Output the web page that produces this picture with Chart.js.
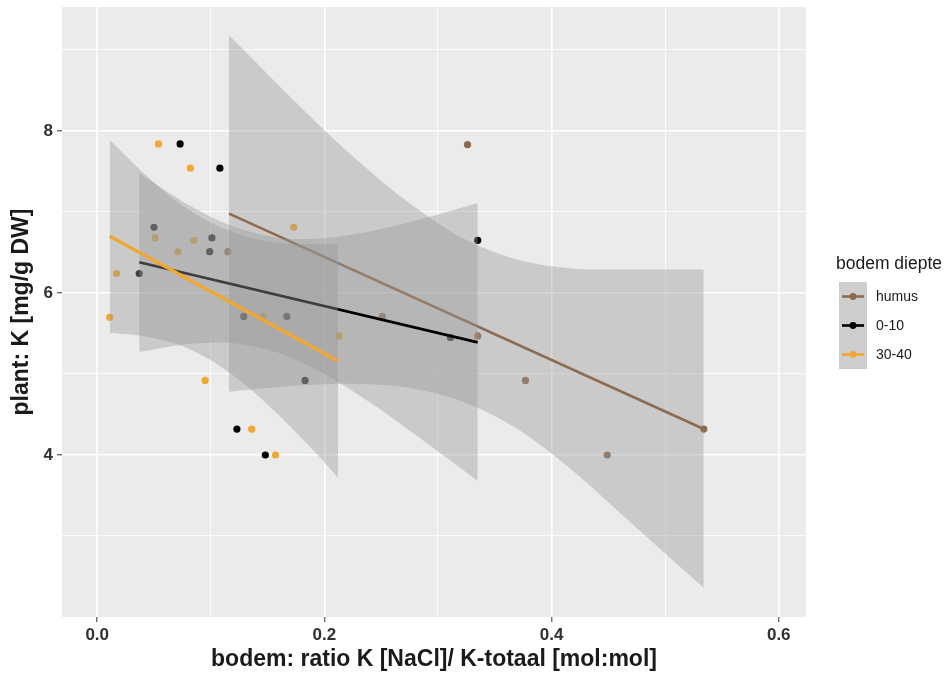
<!DOCTYPE html>
<html>
<head>
<meta charset="utf-8">
<script src="https://cdn.jsdelivr.net/npm/chart.js@4.4.1/dist/chart.umd.min.js"></script>
<style>
  html, body { margin: 0; padding: 0; background: #ffffff; }
  #c { display: block; }
</style>
</head>
<body>
<canvas id="c" width="952" height="673"></canvas>
<script>
// bodem diepte groepen
const GROUPS = ['humus', '0-10', '30-40'];
const GROUP_COLORS = ['#8c6b4e', '#000000', '#f0a832'];

// punten per groep (x = ratio K NaCl / K-totaal, y = plant K)
const HUMUS_X = [0.115, 0.251, 0.326, 0.335, 0.377, 0.449, 0.534];
const HUMUS_Y = [6.51, 5.71, 7.83, 5.47, 4.92, 4.00, 4.32];
const D010_X = [0.037, 0.050, 0.073, 0.108, 0.101, 0.099, 0.123, 0.148, 0.129, 0.167, 0.183, 0.311, 0.335];
const D010_Y = [6.24, 6.81, 7.84, 7.54, 6.68, 6.51, 4.32, 4.00, 5.71, 5.71, 4.92, 5.45, 6.65];
const D3040_X = [0.011, 0.017, 0.054, 0.082, 0.071, 0.051, 0.085, 0.095, 0.136, 0.157, 0.173, 0.213, 0.146];
const D3040_Y = [5.70, 6.24, 7.84, 7.54, 6.51, 6.68, 6.65, 4.92, 4.32, 4.00, 6.81, 5.47, 5.71];

// regressielijnen (begin en eind)
const HUMUS_FIT_X = [0.116, 0.534];
const HUMUS_FIT_Y = [6.98, 4.32];
const D010_FIT_X = [0.037, 0.335];
const D010_FIT_Y = [6.38, 5.39];
const D3040_FIT_X = [0.011, 0.212];
const D3040_FIT_Y = [6.70, 5.16];

const HUMUS_BAND_X = [0.116, 0.17, 0.22, 0.27, 0.32, 0.37, 0.42, 0.47, 0.534];
const HUMUS_BAND_HI = [9.18, 8.42, 7.75, 7.16, 6.69, 6.41, 6.30, 6.29, 6.29];
const HUMUS_BAND_LO = [4.78, 4.85, 4.88, 4.84, 4.67, 4.32, 3.79, 3.16, 2.36];
const D010_BAND_X = [0.037, 0.08, 0.12, 0.16, 0.20, 0.24, 0.28, 0.335];
const D010_BAND_HI = [7.48, 7.09, 6.82, 6.68, 6.68, 6.76, 6.89, 7.11];
const D010_BAND_LO = [5.27, 5.37, 5.38, 5.26, 5.00, 4.65, 4.25, 3.68];
const D3040_BAND_X = [0.011, 0.04, 0.07, 0.10, 0.13, 0.16, 0.19, 0.212];
const D3040_BAND_HI = [7.89, 7.49, 7.13, 6.87, 6.70, 6.62, 6.60, 6.60];
const D3040_BAND_LO = [5.51, 5.47, 5.37, 5.17, 4.87, 4.49, 4.06, 3.72];

// assen
const X_TICKS = [0, 0.1, 0.2, 0.3, 0.4, 0.5, 0.6];
const X_TICK_LABELS = ['0.0', '', '0.2', '', '0.4', '', '0.6'];
const Y_TICKS = [3, 4, 5, 6, 7, 8, 9];
const Y_TICK_LABELS = ['', '4', '', '6', '', '8', ''];
const X_TITLE = 'bodem: ratio K [NaCl]/ K-totaal [mol:mol]';
const Y_TITLE = 'plant: K [mg/g DW]';
const LEGEND_TITLE = 'bodem diepte';

const FONT = '"Liberation Sans", Arial, sans-serif';
const BAND_FILL = 'rgba(153, 153, 153, 0.4)';

function xy(xs, ys) {
  return xs.map((x, i) => ({ x: x, y: ys[i] }));
}

const points = [[HUMUS_X, HUMUS_Y], [D010_X, D010_Y], [D3040_X, D3040_Y]];
const fits = [[HUMUS_FIT_X, HUMUS_FIT_Y], [D010_FIT_X, D010_FIT_Y], [D3040_FIT_X, D3040_FIT_Y]];
const bands = [
  [HUMUS_BAND_X, HUMUS_BAND_HI, HUMUS_BAND_LO],
  [D010_BAND_X, D010_BAND_HI, D010_BAND_LO],
  [D3040_BAND_X, D3040_BAND_HI, D3040_BAND_LO]
];

const datasets = [];

// punten onderaan (eerst getekend)
GROUPS.forEach((g, i) => {
  datasets.push({
    type: 'scatter',
    label: g,
    data: xy(points[i][0], points[i][1]),
    backgroundColor: GROUP_COLORS[i],
    pointRadius: 3.6,
    borderWidth: 0,
    order: 100 - i
  });
});

// per groep: band en daarna lijn, humus onderop
GROUPS.forEach((g, i) => {
  const b = bands[i];
  datasets.push({
    type: 'line',
    label: g + ' hi',
    data: xy(b[0], b[1]),
    borderWidth: 0,
    pointRadius: 0,
    tension: 0.3,
    backgroundColor: BAND_FILL,
    fill: '+1',
    order: 60 - i * 10
  });
  datasets.push({
    type: 'line',
    label: g + ' lo',
    data: xy(b[0], b[2]),
    borderWidth: 0,
    pointRadius: 0,
    tension: 0.3,
    fill: false,
    order: 61 - i * 10
  });
  datasets.push({
    type: 'line',
    label: g + ' fit',
    data: xy(fits[i][0], fits[i][1]),
    borderColor: GROUP_COLORS[i],
    borderWidth: i === 2 ? 3.2 : 2.6,
    pointRadius: 0,
    fill: false,
    order: 59 - i * 10
  });
});

const panelBg = {
  id: 'panelBg',
  beforeDraw(chart) {
    const { ctx, chartArea: a } = chart;
    ctx.save();
    ctx.fillStyle = '#ebebeb';
    ctx.fillRect(a.left, a.top, a.right - a.left, a.bottom - a.top);
    ctx.restore();
  }
};

const ggLegend = {
  id: 'ggLegend',
  afterDraw(chart) {
    const ctx = chart.ctx;
    const left = 839, top = 282, size = 29, w = 28;
    ctx.save();
    ctx.font = '17.5px ' + FONT;
    ctx.fillStyle = '#1a1a1a';
    ctx.textBaseline = 'middle';
    ctx.textAlign = 'left';
    ctx.fillText(LEGEND_TITLE, left - 3, 264);
    GROUPS.forEach((g, i) => {
      const y = top + i * size;
      ctx.fillStyle = '#f2f2f2';
      ctx.fillRect(left, y, w, size);
      ctx.fillStyle = BAND_FILL;
      ctx.fillRect(left, y, w, size);
      ctx.strokeStyle = GROUP_COLORS[i];
      ctx.lineWidth = 2.6;
      ctx.beginPath();
      ctx.moveTo(left + 3, y + size / 2);
      ctx.lineTo(left + w - 3, y + size / 2);
      ctx.stroke();
      ctx.fillStyle = GROUP_COLORS[i];
      ctx.beginPath();
      ctx.arc(left + w / 2, y + size / 2, 3.4, 0, Math.PI * 2);
      ctx.fill();
      ctx.fillStyle = '#1a1a1a';
      ctx.font = '14px ' + FONT;
      ctx.fillText(g, left + w + 9, y + size / 2 + 1);
    });
    ctx.restore();
  }
};

function isMajor(list, labels, v) {
  const k = list.findIndex(t => Math.abs(t - v) < 1e-9);
  return k >= 0 && labels[k] !== '';
}

new Chart(document.getElementById('c'), {
  type: 'scatter',
  data: { datasets: datasets },
  options: {
    responsive: false,
    animation: false,
    layout: { padding: { left: 0, right: 146, top: 7, bottom: 0 } },
    plugins: {
      legend: { display: false },
      tooltip: { enabled: false }
    },
    scales: {
      x: {
        type: 'linear',
        min: -0.031,
        max: 0.624,
        afterBuildTicks: s => { s.ticks = X_TICKS.map(v => ({ value: v })); },
        afterFit: s => { s.height = 56; s.paddingLeft = 0; s.paddingRight = 0; },
        border: { display: false },
        grid: {
          color: '#ffffff',
          lineWidth: c => isMajor(X_TICKS, X_TICK_LABELS, c.tick.value) ? 1.6 : 0.8,
          tickLength: 5,
          tickColor: c => isMajor(X_TICKS, X_TICK_LABELS, c.tick.value) ? '#333333' : 'rgba(0,0,0,0)',
          tickWidth: 1
        },
        ticks: {
          autoSkip: false,
          maxRotation: 0,
          padding: 3,
          color: '#303030',
          font: { family: FONT, size: 17, weight: 'bold' },
          callback: (v, i) => X_TICK_LABELS[i]
        },
        title: {
          display: true,
          text: X_TITLE,
          color: '#1a1a1a',
          font: { family: FONT, size: 23, weight: 'bold', lineHeight: 1.0 },
          padding: { top: 0, bottom: 2 }
        }
      },
      y: {
        type: 'linear',
        min: 2.0,
        max: 9.53,
        afterBuildTicks: s => { s.ticks = Y_TICKS.map(v => ({ value: v })); },
        afterFit: s => { s.width = 62; s.paddingTop = 0; s.paddingBottom = 0; },
        border: { display: false },
        grid: {
          color: '#ffffff',
          lineWidth: c => isMajor(Y_TICKS, Y_TICK_LABELS, c.tick.value) ? 1.6 : 0.8,
          tickLength: 5,
          tickColor: c => isMajor(Y_TICKS, Y_TICK_LABELS, c.tick.value) ? '#333333' : 'rgba(0,0,0,0)',
          tickWidth: 1
        },
        ticks: {
          autoSkip: false,
          padding: 4,
          color: '#303030',
          font: { family: FONT, size: 17, weight: 'bold' },
          callback: (v, i) => Y_TICK_LABELS[i]
        },
        title: {
          display: true,
          text: Y_TITLE,
          color: '#1a1a1a',
          font: { family: FONT, size: 23, weight: 'bold', lineHeight: 1.0 },
          padding: { top: 10, bottom: 0 }
        }
      }
    }
  },
  plugins: [panelBg, ggLegend]
});
</script>
</body>
</html>
